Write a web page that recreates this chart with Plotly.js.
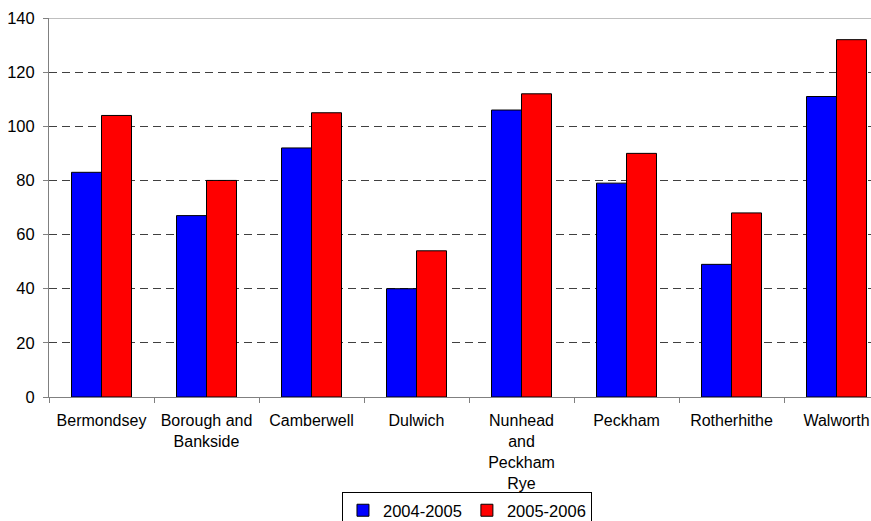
<!DOCTYPE html>
<html>
<head>
<meta charset="utf-8">
<script src="https://cdn.plot.ly/plotly-3.0.1.min.js"></script>
<style>
  html, body { margin: 0; padding: 0; overflow: hidden; background: #fff; }
  #chart { width: 891px; height: 521px; }
</style>
</head>
<body>
<div id="chart"></div>
<script>
const categories = ["Bermondsey", "Borough and<br>Bankside", "Camberwell", "Dulwich",
  "Nunhead<br>and<br>Peckham<br>Rye", "Peckham", "Rotherhithe", "Walworth"];
const series2004 = [83, 67, 92, 40, 106, 79, 49, 111];
const series2005 = [104, 80, 105, 54, 112, 90, 68, 132];
const seriesNames = ["2004-2005", "2005-2006"];
const yTicks = [0, 20, 40, 60, 80, 100, 120, 140];

const font = { family: "Liberation Sans, Arial, sans-serif", size: 16.5, color: "#000" };
const xFont = { family: "Liberation Sans, Arial, sans-serif", size: 16, color: "#000" };

const traces = [
  { type: "bar", name: seriesNames[0], x: categories, y: series2004,
    marker: { color: "#0000FF", line: { color: "#000", width: 1 } } },
  { type: "bar", name: seriesNames[1], x: categories, y: series2005,
    marker: { color: "#FF0000", line: { color: "#000", width: 1 } } }
];

const layout = {
  width: 891, height: 521,
  margin: { l: 49, r: 2, t: 18, b: 124, autoexpand: false },
  paper_bgcolor: "#fff", plot_bgcolor: "#fff",
  font: font,
  barmode: "group", bargap: 0.4286, bargroupgap: 0,
  showlegend: true,
  legend: {
    orientation: "h", x: 0.4976, xanchor: "center", y: -0.2507, yanchor: "top",
    bordercolor: "#000", borderwidth: 1, font: font,
    itemwidth: 30, tracegroupgap: 0
  },
  xaxis: {
    type: "category", tickson: "boundaries",
    ticks: "outside", ticklen: 5, tickcolor: "#808080",
    showline: true, linecolor: "#808080", linewidth: 1,
    showgrid: false, tickfont: xFont, automargin: false, ticklabelstandoff: 9
  },
  yaxis: {
    range: [0, 140], tickvals: yTicks, ticktext: yTicks.map(String),
    ticks: "outside", ticklen: 5, tickcolor: "#808080",
    showline: true, linecolor: "#808080", linewidth: 1,
    showgrid: true, gridcolor: "#404040", griddash: "8px,5px", gridwidth: 1,
    zeroline: false, tickfont: font, automargin: false, ticklabelstandoff: 5
  },
  shapes: [
    { type: "line", xref: "paper", x0: 0, x1: 1, yref: "y", y0: 140, y1: 140,
      line: { color: "#808080", width: 1 } }
  ]
};

Plotly.newPlot("chart", traces, layout, { displayModeBar: false, staticPlot: true });
</script>
</body>
</html>
